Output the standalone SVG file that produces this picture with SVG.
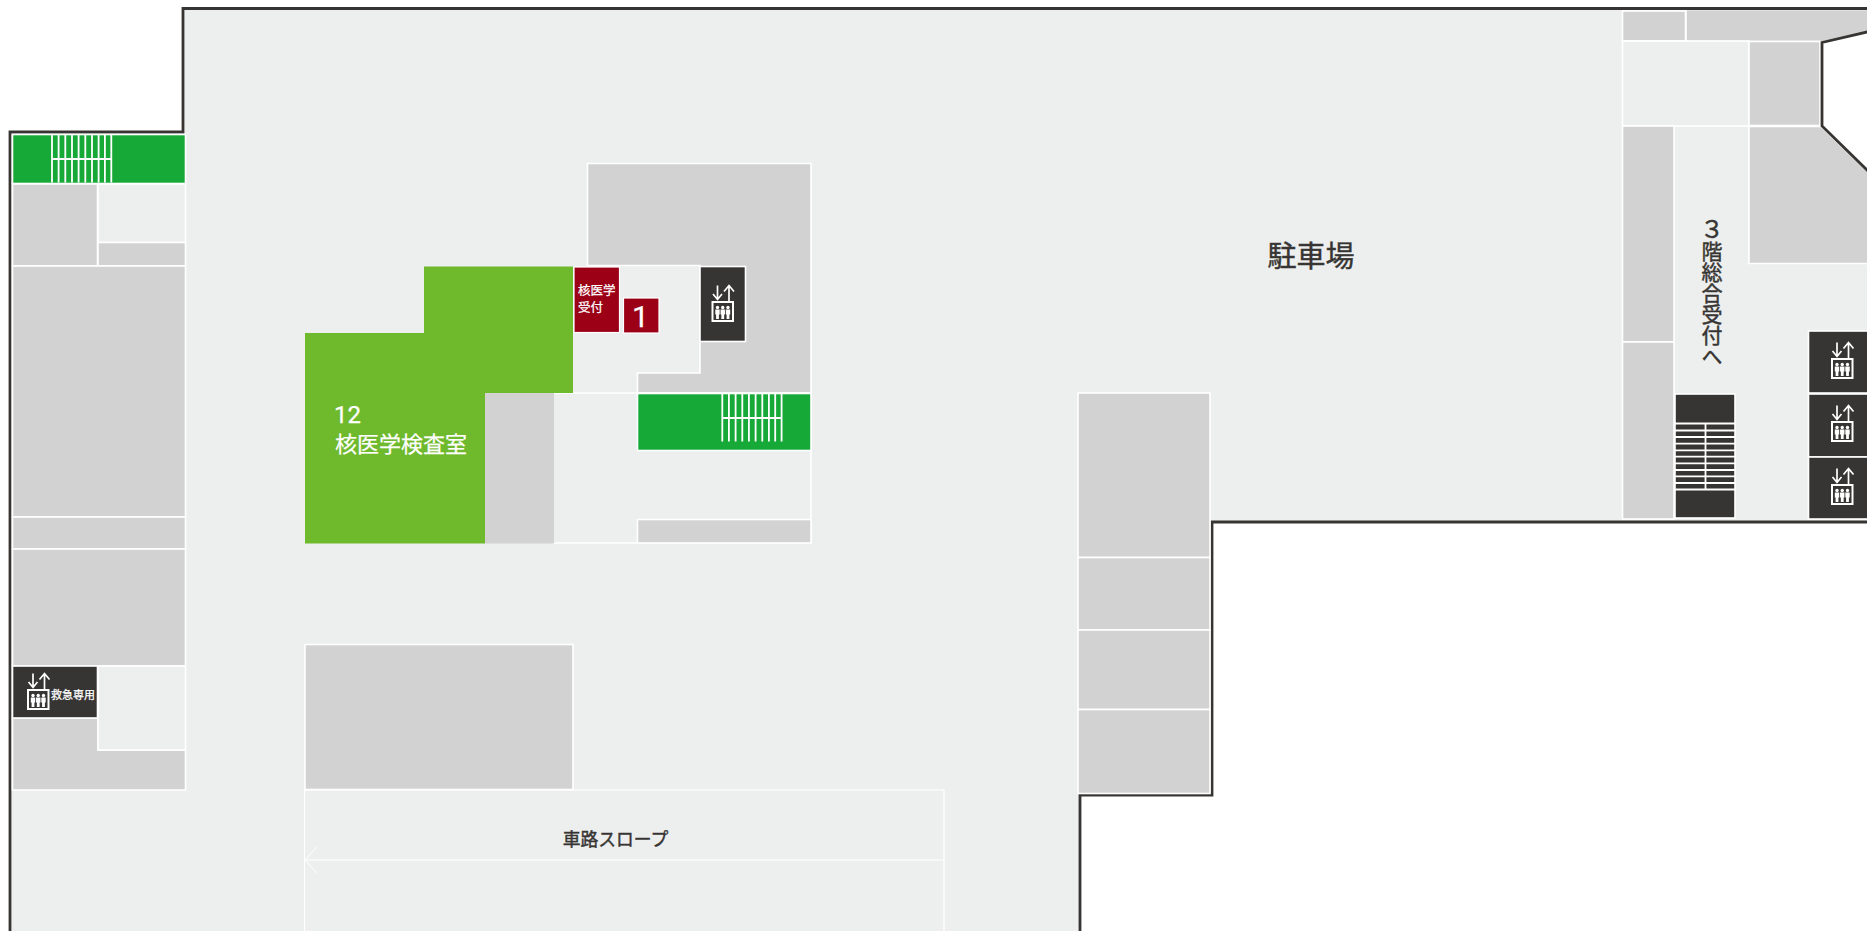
<svg xmlns="http://www.w3.org/2000/svg" width="1867" height="931" viewBox="0 0 1867 931">
<style>
text{font-family:"Noto Sans CJK JP","Noto Sans",sans-serif}
.g{fill:#d2d2d2;stroke:#fff;stroke-width:1.6}
.l{fill:#edefee;stroke:#fff;stroke-width:1.6}
.d{fill:#373533;stroke:#fff;stroke-width:1.6}
.s{fill:#17a938;stroke:#fff;stroke-width:1.6}
.r{fill:#9b0017;stroke:#fff;stroke-width:1.2}
.w{stroke:#fff;stroke-width:1.800;fill:none}
.t{fill:#373533;stroke:#373533;stroke-width:.45}
.tw{fill:#fff;stroke:#fff;stroke-width:.25}
.n{font-family:Roboto,"Noto Sans",sans-serif}
</style>
<defs>
<g id="elev">
<path fill="none" stroke="#fff" stroke-width="1.700" d="M6-15.500V-2M1.500-7L6-1.500L10.500-7M17.500 0V-15M12.500-9.500L17.500-15.500L22.500-9.500"/>
<rect x="0" y="0" width="22.500" height="21" fill="#fff"/>
<rect x="2" y="2" width="18.500" height="17" fill="#373533"/>
<g fill="#fff"><circle cx="6" cy="6.500" r="1.700"/><path d="M3.800 8.500h4.400v5h-.800V18H4.600v-4.500h-.800z"/>
<circle cx="11.250" cy="6.500" r="1.700"/><path d="M9.050 8.500h4.400v5h-.800V18H9.850v-4.500h-.800z"/>
<circle cx="16.500" cy="6.500" r="1.700"/><path d="M14.300 8.500h4.400v5h-.800V18h-2.800v-4.500h-.800z"/></g>
</g>
<g id="stairV">
<path class="w" d="M0 0V47.500M6.600 0V47.500M13.300 0V47.500M20 0V47.500M26.600 0V47.500M33.300 0V47.500M40 0V47.500M46.600 0V47.500M52.900 0V47.500M59.300 0V47.500M0 24H59.300"/>
</g>
</defs>

<g id="floor">
<path d="M10 935V132H183V8.500H1875V522H1212V795H1080V935Z" fill="#edefee" stroke="#373533" stroke-width="2.800"/>
</g>

<g id="left-wing">
<rect class="s" x="12.500" y="134.500" width="173" height="49"/>
<use href="#stairV" x="52" y="135"/>
<rect class="g" x="12.500" y="184" width="85" height="82"/>
<rect class="l" x="98" y="184" width="87.500" height="58.500"/>
<rect class="g" x="98" y="242.500" width="87.500" height="23.500"/>
<rect class="g" x="12.500" y="266" width="173" height="251"/>
<rect class="g" x="12.500" y="517" width="173" height="32"/>
<rect class="g" x="12.500" y="549" width="173" height="117"/>
<path class="g" d="M12.500 718H98V750H185.500V790H12.500Z"/>
<rect class="l" x="98" y="666" width="87.500" height="84"/>
</g>
<g id="elevator-emergency">
<rect class="d" x="12.500" y="666" width="85" height="52"/>
<use href="#elev" x="27" y="689"/>
<text class="tw" x="51" y="699" font-size="11">救急専用</text>
</g>

<g id="core">
<path class="g" d="M587.500 163.500H811V393H637.500V373H700V265.500H587.500Z"/>
<path class="l" d="M553 393H811V543H553Z"/>
<rect class="s" x="637.500" y="393.500" width="173.500" height="57"/>
<use href="#stairV" x="722.300" y="394"/>
<rect class="g" x="637.500" y="519.500" width="173.500" height="23.500"/>
<rect x="484.500" y="393" width="69.500" height="150.500" fill="#d2d2d2"/>
</g>
<g id="room-12">
<path d="M424 266.500H573V393H485V543.500H305V333H424Z" fill="#6fb92c"/>
<text class="tw n" x="334" y="423" font-size="24">12</text>
<text class="tw" x="335" y="451.500" font-size="22">核医学検査室</text>
</g>
<g id="reception">
<rect class="r" x="574" y="267" width="45.500" height="65.500"/>
<text class="tw" font-size="12.500"><tspan x="578" y="295">核医学</tspan><tspan x="578" y="312">受付</tspan></text>
</g>
<g id="reception-1">
<rect class="r" x="623.500" y="298" width="35.500" height="35"/>
<text class="tw n" x="640.500" y="327" font-size="30" text-anchor="middle">1</text>
</g>
<g id="elevator-core">
<rect class="d" x="700" y="266.500" width="45.500" height="75"/>
<use href="#elev" x="711.500" y="301"/>
</g>

<g id="lower-block">
<rect class="g" x="305" y="644.500" width="268" height="145"/>
</g>

<g id="east-rooms">
<rect class="g" x="1078" y="393" width="132" height="164.500"/>
<rect class="g" x="1078" y="557.500" width="132" height="72.500"/>
<rect class="g" x="1078" y="630" width="132" height="79.500"/>
<rect class="g" x="1078" y="709.500" width="132" height="84"/>
</g>

<g id="slope">
<path d="M304.500 935V790H944V935M305 860H944" fill="none" stroke="#fff" stroke-width="1.200"/>
<path d="M317 847L305 860L317 873" fill="none" stroke="#fff" stroke-width=".9"/>
<text class="t" x="615.500" y="846" font-size="17.800" text-anchor="middle">車路スロープ</text>
</g>

<g id="parking"><text class="t" x="1311" y="267" font-size="29" text-anchor="middle">駐車場</text></g>

<g id="right-wing">
<rect class="g" x="1622.500" y="11" width="63" height="30"/>
<path d="M1686 10.500H1867V32L1822 41.500H1686Z" fill="#d2d2d2"/>
<path d="M1622.500 41.500H1820M1686 10V41" stroke="#fff" stroke-width="1.600" fill="none"/>
<rect class="l" x="1622.500" y="41" width="126.500" height="85"/>
<rect class="g" x="1749" y="41.500" width="71" height="84"/>
<rect class="g" x="1622.500" y="126" width="51.500" height="216"/>
<rect class="g" x="1622.500" y="342" width="51.500" height="177"/>
<path class="g" d="M1749 126.500H1821L1869 173V263.500H1749Z"/>
<path d="M1869 31.500L1822 42.500V126L1869 172H1875V-5H1869Z" fill="#fff" stroke="none"/>
<path d="M1869 31.500L1822 42.500V126L1869 172" fill="none" stroke="#373533" stroke-width="2.800"/>
</g>
<g id="label-reception"><text class="t" x="1712" y="217" font-size="21" style="writing-mode:vertical-rl;text-orientation:upright"><tspan font-size="24">３</tspan>階総合受付へ</text></g>
<g id="main-stair">
<rect class="d" x="1675" y="394" width="60" height="124"/>
<path class="w" d="M1675 423.500H1735M1675 430.500H1735M1675 437H1735M1675 443.700H1735M1675 450.300H1735M1675 456.700H1735M1675 463.300H1735M1675 470H1735M1675 476.300H1735M1675 483H1735M1675 489.500H1735M1705.500 424V489"/>
</g>
<g id="elevator-e1"><rect class="d" x="1808.500" y="331" width="60" height="62"/><use href="#elev" x="1831" y="358"/></g>
<g id="elevator-e2"><rect class="d" x="1808.500" y="394" width="60" height="63"/><use href="#elev" x="1831" y="421"/></g>
<g id="elevator-e3"><rect class="d" x="1808.500" y="457" width="60" height="62"/><use href="#elev" x="1831" y="484"/></g>
</svg>
